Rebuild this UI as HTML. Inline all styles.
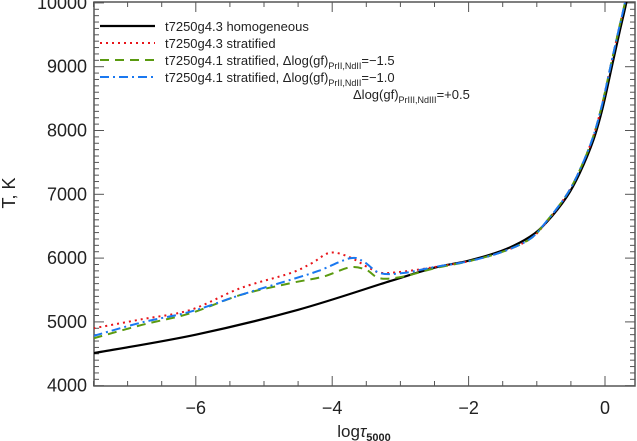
<!DOCTYPE html>
<html><head><meta charset="utf-8"><style>
body{margin:0;background:#fff;}
svg{display:block;font-family:"Liberation Sans",sans-serif;}
</style></head><body>
<svg id="chart" width="637" height="441" viewBox="0 0 637 441">
<g id="axes"></g>
<g id="series"></g>
<g id="legend"></g>
</svg>
<script>
const xTicks=[-6,-4,-2,0];
const yTicks=[4000,5000,6000,7000,8000,9000,10000];
const homX=[-7.5,-6,-4.5,-3.15,-2.5,-2,-1.5,-1.1,-0.85,-0.56,-0.37,-0.17,-0.03,0.1,0.22,0.32,0.45];
const homT=[4510,4800,5190,5640,5850,5960,6120,6335,6570,6962,7334,7851,8373,9000,9575,10045,10800];
const strX=[-7.5,-6.8,-6.08,-5.35,-4.62,-4.3,-4.03,-3.74,-3.45,-3.26,-2.87,-2.5,-2,-1.5,-1.1,-0.87,-0.58,-0.39,-0.19,-0.05,0.08,0.2,0.3,0.45];
const strT=[4900,5040,5187,5527,5762,5920,6085,6013,5840,5766,5800,5860,5950,6100,6300,6550,6962,7334,7851,8373,9000,9575,10045,10900];
const blueX=[-7.5,-6.8,-6.08,-5.35,-4.62,-4.2,-3.74,-3.54,-3.3,-2.96,-2.5,-2,-1.5,-1.1,-0.87,-0.58,-0.39,-0.19,-0.05,0.08,0.2,0.3,0.45];
const blueT=[4780,4990,5160,5420,5657,5800,5997,5945,5766,5766,5860,5950,6100,6300,6560,6962,7334,7851,8373,9000,9575,10045,10900];
const greenX=[-7.5,-6.8,-6.08,-5.35,-4.62,-4.13,-3.74,-3.5,-3.3,-2.96,-2.5,-2,-1.5,-1.1,-0.87,-0.58,-0.39,-0.19,-0.05,0.08,0.2,0.3,0.45];
const greenT=[4743,4950,5135,5420,5605,5710,5856,5814,5683,5710,5840,5950,6100,6300,6560,6962,7334,7851,8373,9000,9575,10045,10900];
const L=94,R=635,T0=2,B=386;
const sx=v=>605+v*68.2;
const sy=t=>385.7-(t-4000)*0.0638;
const NS="http://www.w3.org/2000/svg";
function mk(tag,attrs,parent){const e=document.createElementNS(NS,tag);for(const k in attrs)e.setAttribute(k,attrs[k]);parent.appendChild(e);return e;}
const ax=document.getElementById('axes');
const frame=mk('rect',{x:L,y:T0,width:R-L,height:B-T0,fill:'none',stroke:'#555','stroke-width':1.5},ax);


for(let v=-7.5;v<=0.41;v+=0.5){const x=sx(v);const major=Math.abs(v-Math.round(v/2)*2)<1e-6;const len=major?10:5;
mk('line',{x1:x,y1:B,x2:x,y2:B-len,stroke:'#555'},ax);mk('line',{x1:x,y1:T0,x2:x,y2:T0+len,stroke:'#555'},ax);}
for(let t=4000;t<=10000;t+=100){const y=sy(t);const len=t%1000===0?10:5;
mk('line',{x1:L,y1:y,x2:L+len,y2:y,stroke:'#555'},ax);mk('line',{x1:R,y1:y,x2:R-len,y2:y,stroke:'#555'},ax);}
xTicks.forEach(v=>{const t=mk('text',{x:sx(v),y:414,'font-size':18,'text-anchor':'middle',fill:'#222'},ax);t.textContent=v===0?'0':'−'+Math.abs(v);

});
yTicks.forEach(v=>{const t=mk('text',{x:87,y:sy(v)+6,'font-size':18,'text-anchor':'end',fill:'#222'},ax);t.textContent=v;

});
const xl=mk('text',{x:364,y:437,'font-size':17,'text-anchor':'middle',fill:'#222'},ax);
xl.innerHTML='log<tspan font-style="italic">τ</tspan><tspan font-size="11" font-weight="bold" dy="4">5000</tspan>';


const yl=mk('text',{x:0,y:0,'font-size':18,'text-anchor':'middle',fill:'#222',transform:'translate(15,193) rotate(-90)'},ax);
yl.textContent='T, K';


const sg=document.getElementById('series');
function pathD(xs,ts){const p=xs.map((x,i)=>[sx(x),sy(ts[i])]);let d='M'+p[0][0]+','+p[0][1];
for(let i=0;i<p.length-1;i++){const p0=p[Math.max(i-1,0)],p1=p[i],p2=p[i+1],p3=p[Math.min(i+2,p.length-1)];
d+=' C'+(p1[0]+(p2[0]-p0[0])/6)+','+(p1[1]+(p2[1]-p0[1])/6)+' '+(p2[0]-(p3[0]-p1[0])/6)+','+(p2[1]-(p3[1]-p1[1])/6)+' '+p2[0]+','+p2[1];}return d;}
const cp=mk('clipPath',{id:'clip'},sg);mk('rect',{x:L,y:T0,width:R-L,height:B-T0},cp);
const styles=[
 {name:'homogeneous-line',xs:homX,ts:homT,stroke:'#000',w:2.2,dash:''},
 {name:'stratified-line',xs:strX,ts:strT,stroke:'#e8141a',w:2,dash:'2,4'},
 {name:'stratified-15-line',xs:greenX,ts:greenT,stroke:'#5a9a10',w:2,dash:'9,6'},
 {name:'stratified-10-line',xs:blueX,ts:blueT,stroke:'#1a78f0',w:2,dash:'9,4,2,4'}];
styles.forEach(s=>{const p=mk('path',{d:pathD(s.xs,s.ts),fill:'none',stroke:s.stroke,'stroke-width':s.w,'stroke-dasharray':s.dash,'clip-path':'url(#clip)'},sg);

});
const lg=document.getElementById('legend');
const entries=[
 ['t7250g4.3 homogeneous',styles[0],26],
 ['t7250g4.3 stratified',styles[1],43],
 ['t7250g4.1 stratified, Δlog(gf)<tspan font-size="9" dy="4">PrII,NdII</tspan><tspan dy="-4">=−1.5</tspan>',styles[2],60],
 ['t7250g4.1 stratified, Δlog(gf)<tspan font-size="9" dy="4">PrII,NdII</tspan><tspan dy="-4">=−1.0</tspan>',styles[3],77]];
entries.forEach(e=>{const g=mk('g',{},lg);


mk('line',{x1:100,y1:e[2],x2:155,y2:e[2],stroke:e[1].stroke,'stroke-width':e[1].w,'stroke-dasharray':e[1].dash},g);
const t=mk('text',{x:165,y:e[2]+5,'font-size':13,fill:'#222'},g);t.innerHTML=e[0];});
const t5=mk('text',{x:353,y:99,'font-size':13,fill:'#222'},lg);
t5.innerHTML='Δlog(gf)<tspan font-size="9" dy="4">PrIII,NdIII</tspan><tspan dy="-4">=+0.5</tspan>';


</script>
</body></html>
